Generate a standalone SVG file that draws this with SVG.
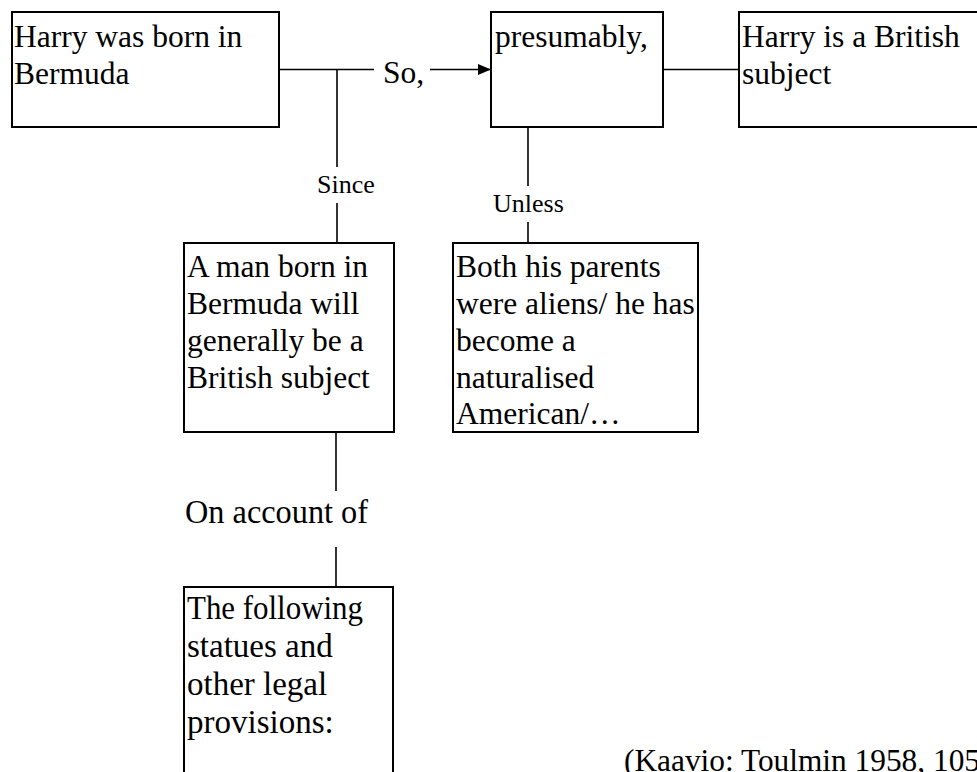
<svg xmlns="http://www.w3.org/2000/svg" width="977" height="772" viewBox="0 0 977 772">
<style>
.box{fill:#fff;stroke:#000;stroke-width:2}
.t{font-family:"Liberation Serif","Times New Roman",serif;font-size:31.5px;fill:#000}
.lbl{font-family:"Liberation Serif","Times New Roman",serif;font-size:26px;fill:#000}
.c{stroke:#000;stroke-width:1.6;fill:none}
</style>
<defs>
<marker id="arr" viewBox="0 0 13 11" refX="13" refY="5.5" markerWidth="13" markerHeight="11" markerUnits="userSpaceOnUse" orient="auto">
<path d="M0,0 L13,5.5 L0,11 z" fill="#000"/>
</marker>
</defs>
<rect width="977" height="772" fill="#fff"/>
<g id="connectors">
<line class="c" x1="279" y1="69.5" x2="374" y2="69.5"/>
<line class="c" x1="337" y1="69.5" x2="337" y2="167"/>
<line class="c" x1="337" y1="203" x2="337" y2="243"/>
<line class="c" x1="430" y1="69.5" x2="491" y2="69.5" marker-end="url(#arr)"/>
<line class="c" x1="663" y1="69.5" x2="739" y2="69.5"/>
<line class="c" x1="528" y1="127" x2="528" y2="186"/>
<line class="c" x1="528" y1="222" x2="528" y2="243"/>
<line class="c" x1="336" y1="432" x2="336" y2="491"/>
<line class="c" x1="336" y1="547" x2="336" y2="587"/>
<text class="t" x="383" y="83">So,</text>
<text class="lbl" x="317" y="193">Since</text>
<text class="lbl" x="493" y="212">Unless</text>
<text class="t" x="185" y="523" style="font-size:33px" textLength="183" lengthAdjust="spacingAndGlyphs">On account of</text>
</g>
<g id="data">
<rect class="box" x="12" y="12" width="267" height="115"/>
<text class="t" x="14" y="47">Harry was born in</text>
<text class="t" x="14" y="84">Bermuda</text>
</g>
<g id="qualifier">
<rect class="box" x="491" y="12" width="172" height="115"/>
<text class="t" x="495" y="47">presumably,</text>
</g>
<g id="claim">
<rect class="box" x="739" y="12" width="260" height="115"/>
<text class="t" x="742" y="47">Harry is a British</text>
<text class="t" x="742" y="84">subject</text>
</g>
<g id="warrant">
<rect class="box" x="184" y="243" width="210" height="189"/>
<text class="t" x="187" y="277">A man born in</text>
<text class="t" x="187" y="314">Bermuda will</text>
<text class="t" x="187" y="351">generally be a</text>
<text class="t" x="187" y="388">British subject</text>
</g>
<g id="rebuttal">
<rect class="box" x="453" y="243" width="245" height="189"/>
<text class="t" x="456" y="277">Both his parents</text>
<text class="t" x="456" y="314">were aliens/ he has</text>
<text class="t" x="456" y="351">become a</text>
<text class="t" x="456" y="388">naturalised</text>
<text class="t" x="456" y="424">American/…</text>
</g>
<g id="backing">
<rect class="box" x="184" y="587" width="209" height="200"/>
<text class="t" x="187" y="619" style="font-size:33px" textLength="176" lengthAdjust="spacingAndGlyphs">The following</text>
<text class="t" x="187" y="657" style="font-size:33px">statues and</text>
<text class="t" x="187" y="695" style="font-size:33px">other legal</text>
<text class="t" x="187" y="733" style="font-size:33px">provisions:</text>
</g>
<g id="source">
<text class="t" x="624" y="771" style="font-size:32px" textLength="356" lengthAdjust="spacingAndGlyphs">(Kaavio: Toulmin 1958, 105</text>
</g>
</svg>
